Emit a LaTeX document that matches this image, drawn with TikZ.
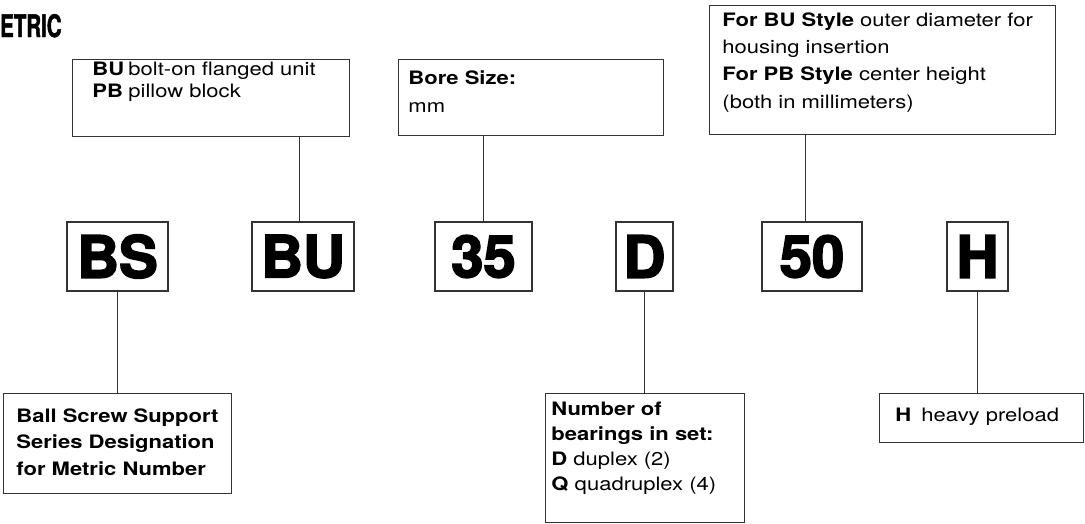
\documentclass[tikz,border=0pt]{standalone}
\usepackage{fontspec}
\usepackage{tikz}
\setmainfont[FakeStretch=1.19]{TeX Gyre Heros}
\newfontfamily\codefont[FakeBold=3]{texgyreheros-bold.otf}
\newfontfamily\titlefont[FakeStretch=0.66, FakeBold=1.5]{texgyreheros-bold.otf}
\definecolor{linegray}{HTML}{333333}
% text block of a box: height, width, top gap, lines
\newcommand{\boxlines}[4]{\parbox[t][#1][t]{#2}{\vspace*{#3}#4}}
\tikzset{
  infobox/.style={
    rectangle, anchor=north west,
    draw=linegray, line width=0.9pt,
    inner ysep=0pt, align=left,
    font=\fontsize{18.5}{22}\selectfont,
  },
  codebox/.style={
    rectangle,
    minimum height=69pt, inner sep=0pt,
    draw=linegray, line width=1.2pt,
    font=\codefont\fontsize{58}{58}\selectfont,
  },
  link/.style={draw=linegray, line width=0.9pt},
}
\begin{document}
\begin{tikzpicture}[x=1pt, y=-1pt]

  \useasboundingbox (0,0) rectangle (1085,523);

  \node[anchor=base west, inner sep=0pt, font=\titlefont\fontsize{31}{31}\selectfont] (title) at (0,37) {ETRIC};

  % part number
  \node[codebox, minimum width=101pt] (cbs) at (117.5,256.5) {BS};
  \node[codebox, minimum width=102pt] (cbu) at (303,256.5) {BU};
  \node[codebox, minimum width=97pt] (c35) at (483.5,256.5) {35};
  \node[codebox, minimum width=57pt] (cd) at (644.5,256.5) {D};
  \node[codebox, minimum width=100pt] (c50) at (812,256.5) {50};
  \node[codebox, minimum width=61pt] (ch) at (977.5,256.5) {H};

  % explanations above
  \node[infobox, inner xsep=20pt] (typebox) at (72,59)
    {\boxlines{77pt}{237pt}{3pt}{\makebox[36pt][l]{\textbf{BU}}bolt-on flanged unit\\
     \makebox[36pt][l]{\textbf{PB}}pillow block}};
  \node[infobox, inner xsep=10pt, font=\fontsize{18.5}{28}\selectfont] (borebox) at (398,59)
    {\boxlines{76pt}{245pt}{11pt}{\textbf{Bore Size:}\\ mm}};
  \node[infobox, inner xsep=13pt, font=\fontsize{18.5}{27.3}\selectfont] (sizebox) at (709,5)
    {\boxlines{129pt}{320pt}{7pt}{\textbf{For BU Style} outer diameter for\\
     housing insertion\\
     \textbf{For PB Style} center height\\
     (both in millimeters)}};

  % explanations below
  \node[infobox, inner xsep=13pt, font=\fontsize{18.5}{26.5}\selectfont] (seriesbox) at (3,393)
    {\boxlines{100pt}{202pt}{15pt}{\textbf{Ball Screw Support}\\
     \textbf{Series Designation}\\
     \textbf{for Metric Number}}};
  \node[infobox, inner xsep=6pt, font=\fontsize{18.5}{25}\selectfont] (setbox) at (545,393)
    {\boxlines{129pt}{187pt}{9pt}{\textbf{Number of}\\
     \textbf{bearings in set:}\\
     \textbf{D} duplex (2)\\
     \textbf{Q} quadruplex (4)}};
  \node[infobox, inner xsep=16pt] (preloadbox) at (879,393)
    {\boxlines{49pt}{172pt}{15pt}{\makebox[26pt][l]{\textbf{H}}heavy preload}};

  \coordinate (butop) at ([xshift=-4pt]cbu.north);
  \coordinate (dialtop) at ([xshift=-7pt]c50.north);

  \draw[link] (butop) -- (butop |- typebox.south);
  \draw[link] (c35.north) -- (c35.north |- borebox.south);
  \draw[link] (dialtop) -- (dialtop |- sizebox.south);
  \draw[link] (cbs.south) -- (cbs.south |- seriesbox.north);
  \draw[link] (cd.south) -- (cd.south |- setbox.north);
  \draw[link] (ch.south) -- (ch.south |- preloadbox.north);

\end{tikzpicture}
\end{document}
